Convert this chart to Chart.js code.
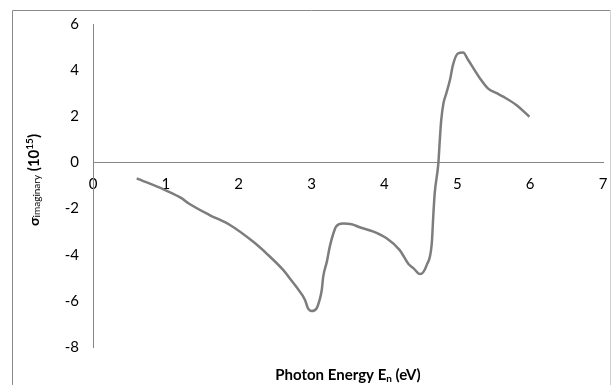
<!DOCTYPE html>
<html>
<head>
<meta charset="utf-8">
<script src="https://cdn.jsdelivr.net/npm/chart.js@4/dist/chart.umd.min.js"></script>
<style>
  html, body { margin: 0; padding: 0; background: #ffffff; }
  #c { display: block; }
</style>
</head>
<body>
<canvas id="c" width="612" height="385"></canvas>
<script>
// Photon energy (eV)
const energy = [0.60, 0.99, 1.22, 1.31, 1.60, 1.88, 2.20, 2.38, 2.61, 2.70, 2.79, 2.91, 2.95, 3.00, 3.07, 3.11, 3.14, 3.16, 3.21, 3.25, 3.30, 3.34, 3.43, 3.55, 3.66, 3.85, 4.03, 4.21, 4.33, 4.40, 4.49, 4.58, 4.65, 4.67, 4.69, 4.74, 4.76, 4.78, 4.81, 4.85, 4.90, 4.94, 5.01, 5.08, 5.15, 5.31, 5.42, 5.54, 5.63, 5.81, 5.99];
// sigma imaginary (10^15)
const sigmaImag = [-0.69, -1.20, -1.56, -1.77, -2.28, -2.71, -3.44, -3.94, -4.66, -5.02, -5.39, -5.96, -6.32, -6.44, -6.32, -5.96, -5.53, -4.95, -4.30, -3.65, -3.07, -2.77, -2.65, -2.68, -2.81, -3.00, -3.29, -3.80, -4.40, -4.59, -4.84, -4.45, -3.51, -2.35, -1.34, -0.04, 0.97, 1.84, 2.56, 3.00, 3.58, 4.22, 4.73, 4.76, 4.44, 3.65, 3.21, 3.00, 2.85, 2.49, 1.98];
const xTicks = [0, 1, 2, 3, 4, 5, 6, 7];
const yTicks = [-8, -6, -4, -2, 0, 2, 4, 6];

const FONT = 'Lato, "Open Sans", sans-serif';
const AXIS = '#868686';

const points = energy.map((e, i) => ({ x: e, y: sigmaImag[i] }));

const decor = {
  id: 'decor',
  beforeDraw(chart) {
    const ctx = chart.ctx;
    ctx.save();
    ctx.fillStyle = '#ffffff';
    ctx.fillRect(0, 0, chart.width, chart.height);
    ctx.lineWidth = 1;
    ctx.strokeStyle = '#8a8a8a';
    ctx.beginPath();
    ctx.moveTo(12.5, 400); ctx.lineTo(12.5, 10.5); ctx.lineTo(610.5, 10.5);
    ctx.stroke();
    ctx.strokeStyle = '#d0d0d0';
    ctx.beginPath();
    ctx.moveTo(610.5, 10.5); ctx.lineTo(610.5, 400);
    ctx.stroke();
    ctx.restore();
  },
  afterDraw(chart) {
    const ctx = chart.ctx;
    const ca = chart.chartArea;
    ctx.save();
    ctx.fillStyle = '#000000';
    ctx.textBaseline = 'alphabetic';
    // X title
    const parts = [
      { t: 'Photon Energy E', f: 'bold 15px ' + FONT, dy: 0 },
      { t: 'n', f: 'bold 10px ' + FONT, dy: 2 },
      { t: ' (eV)', f: 'bold 15px ' + FONT, dy: 0 }
    ];
    let w = 0;
    parts.forEach(p => { ctx.font = p.f; p.w = ctx.measureText(p.t).width; w += p.w; });
    let x = (ca.left + ca.right) / 2 - w / 2;
    const by = 380;
    ctx.textAlign = 'left';
    parts.forEach(p => { ctx.font = p.f; ctx.fillText(p.t, x, by + p.dy); x += p.w; });

    // Y title (rotated)
    const yparts = [
      { t: '\u03C3', f: 'bold 14px ' + FONT, dy: 0 },
      { t: 'imaginary', f: '10px ' + FONT, dy: 1 },
      { t: ' (10', f: 'bold 15px ' + FONT, dy: 0 },
      { t: '15', f: 'bold 10px ' + FONT, dy: -6 },
      { t: ')', f: 'bold 15px ' + FONT, dy: 0 }
    ];
    let yw = 0;
    yparts.forEach(p => { ctx.font = p.f; p.w = ctx.measureText(p.t).width; yw += p.w; });
    ctx.translate(39, 180);
    ctx.rotate(-Math.PI / 2);
    let tx = -yw / 2;
    yparts.forEach(p => { ctx.font = p.f; ctx.fillText(p.t, tx, p.dy); tx += p.w; });
    ctx.restore();
  }
};

new Chart(document.getElementById('c'), {
  type: 'scatter',
  data: {
    datasets: [{
      data: points,
      showLine: true,
      borderColor: '#7d7d7d',
      borderWidth: 2.5,
      pointRadius: 0,
      pointHoverRadius: 0,
      tension: 0.4,
      cubicInterpolationMode: 'monotone',
      fill: false
    }]
  },
  options: {
    responsive: false,
    animation: false,
    events: [],
    layout: { padding: { left: 0, top: 24, right: 9, bottom: 38 } },
    plugins: { legend: { display: false }, tooltip: { enabled: false }, title: { display: false } },
    scales: {
      x: {
        type: 'linear',
        position: { y: 0 },
        min: 0, max: 7,
        afterBuildTicks: s => { s.ticks = xTicks.map(v => ({ value: v })); },
        afterFit: s => { s.height = 0; s.paddingLeft = 0; s.paddingRight = 0; },
        grid: { display: false, drawTicks: false },
        border: { display: true, color: AXIS, width: 1 },
        ticks: { color: '#000', font: { family: FONT, size: 15 }, padding: 13, maxRotation: 0 }
      },
      y: {
        type: 'linear',
        position: 'left',
        min: -8, max: 6,
        afterBuildTicks: s => { s.ticks = yTicks.map(v => ({ value: v })); },
        afterFit: s => { s.width = 93; s.paddingTop = 0; s.paddingBottom = 0; },
        grid: { display: false, drawTicks: false },
        border: { display: true, color: AXIS, width: 1 },
        ticks: { color: '#000', font: { family: FONT, size: 15 }, padding: 14 }
      }
    }
  },
  plugins: [decor]
});
</script>
</body>
</html>
